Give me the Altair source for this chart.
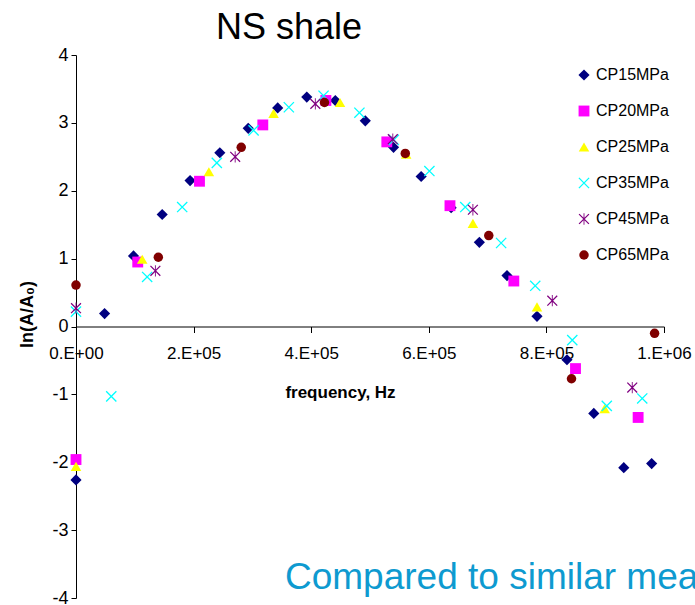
import altair as alt
import pandas as pd

series_names = ["CP15MPa", "CP20MPa", "CP25MPa", "CP35MPa", "CP45MPa", "CP65MPa"]
series_colors = ["#000080", "#FF00FF", "#FFFF00", "#00FFFF", "#800080", "#800000"]

cp15_freq = [0, 48600, 97800, 146600, 194000, 244600, 292900, 343000, 392500, 441000, 492000,
             540000, 587000, 638000, 686000, 733000, 784000, 835000, 880600, 931600, 979000]
cp15_val = [-2.26, 0.19, 1.04, 1.65, 2.15, 2.56, 2.92, 3.22, 3.38, 3.33, 3.03,
            2.64, 2.21, 1.75, 1.24, 0.75, 0.15, -0.49, -1.28, -2.08, -2.02]

cp20_freq = [0, 105000, 210000, 317700, 425000, 528600, 636000, 744600, 849500, 956000]
cp20_val = [-1.96, 0.95, 2.14, 2.97, 3.33, 2.72, 1.78, 0.67, -0.62, -1.34]

cp25_freq = [0, 112600, 226000, 336000, 449000, 561500, 675000, 784000, 899000]
cp25_val = [-2.06, 0.99, 2.28, 3.14, 3.30, 2.54, 1.52, 0.29, -1.21]

cp35_freq = [0, 60000, 121000, 180600, 239500, 302000, 362000, 421000, 482000, 540500,
             601000, 662000, 723000, 781000, 844000, 902700, 963000]
cp35_val = [0.22, -1.03, 0.73, 1.76, 2.41, 2.89, 3.23, 3.40, 3.15, 2.75,
            2.29, 1.76, 1.23, 0.60, -0.20, -1.17, -1.06]

cp45_freq = [0, 135000, 270700, 407000, 538800, 675000, 810000, 946000]
cp45_val = [0.27, 0.82, 2.50, 3.28, 2.76, 1.72, 0.38, -0.90]

cp65_freq = [0, 140000, 281000, 422600, 560000, 702000, 842700, 984000]
cp65_val = [0.61, 1.02, 2.64, 3.30, 2.55, 1.34, -0.77, -0.10]

x_tick_values = [0, 200000, 400000, 600000, 800000, 1000000]
x_tick_labels = ["0.E+00", "2.E+05", "4.E+05", "6.E+05", "8.E+05", "1.E+06"]
y_tick_values = [-4, -3, -2, -1, 0, 1, 2, 3, 4]

title_text = "NS shale"
bottom_text = "Compared to similar mea"

FONT = "Liberation Sans"

# custom filled shapes: X and asterisk
X_PATH = ("M-0.91,-1.09L1.09,0.91L0.91,1.09L-1.09,-0.91Z"
          "M1.09,-0.91L-0.91,1.09L-1.09,0.91L0.91,-1.09Z")
AST_PATH = X_PATH + "M-0.09,-1.15L0.09,-1.15L0.09,1.15L-0.09,1.15Z"
series_shapes = ["diamond", "square", "triangle-up", X_PATH, AST_PATH, "circle"]
series_sizes = [125, 90, 120, 85, 85, 80]

all_freq = [cp15_freq, cp20_freq, cp25_freq, cp35_freq, cp45_freq, cp65_freq]
all_val = [cp15_val, cp20_val, cp25_val, cp35_val, cp45_val, cp65_val]
rows = []
for name, fs, vs in zip(series_names, all_freq, all_val):
    for f, v in zip(fs, vs):
        rows.append({"series": name, "freq": f, "val": v})
df = pd.DataFrame(rows)

label_expr = "''"
for v, lab in reversed(list(zip(x_tick_values, x_tick_labels))):
    label_expr = f"datum.value == {v} ? '{lab}' : ({label_expr})"

W, H = 588, 543

leg = alt.Legend(
    orient="none", legendX=500, legendY=12, padding=0,
    labelFont=FONT, labelFontSize=16, labelColor="black",
    symbolSize=95, rowPadding=20, labelOffset=4, symbolStrokeWidth=0,
)

points = alt.Chart(df).mark_point(filled=True, opacity=1).encode(
    x=alt.X("freq:Q",
            scale=alt.Scale(domain=[0, 1000000], nice=False, zero=False),
            axis=alt.Axis(
                title="frequency, Hz", offset=-H / 2, values=x_tick_values,
                labelExpr=label_expr, labelFlush=False, labelOverlap=False,
                grid=False, tickSize=6, tickColor="black", domainColor="black",
                labelFont=FONT, labelFontSize=17, labelColor="black", labelPadding=13,
                titleFont=FONT, titleFontSize=17, titleFontWeight="bold", titleColor="black",
                titleX=264, titleY=66, titleBaseline="middle", titleAlign="center")),
    y=alt.Y("val:Q",
            scale=alt.Scale(domain=[-4, 4], nice=False, zero=False),
            axis=alt.Axis(
                title="ln(A/A₀)", values=y_tick_values, labelExpr="'' + datum.value",
                grid=False, tickSize=5, tickColor="black", domainColor="black",
                labelFont=FONT, labelFontSize=18, labelColor="black", labelPadding=3,
                titleFont=FONT, titleFontSize=18, titleFontWeight="bold", titleColor="black",
                titleX=-49, titleY=259, titleAngle=270, titleBaseline="middle",
                titleAlign="center")),
    color=alt.Color("series:N", title=None,
                    scale=alt.Scale(domain=series_names, range=series_colors), legend=leg),
    shape=alt.Shape("series:N", title=None,
                    scale=alt.Scale(domain=series_names, range=series_shapes), legend=leg),
    size=alt.Size("series:N",
                  scale=alt.Scale(domain=series_names, range=series_sizes), legend=None),
)

title_mark = alt.Chart(pd.DataFrame({"t": [title_text]})).mark_text(
    font=FONT, fontSize=36, color="black", align="center", baseline="alphabetic"
).encode(x=alt.value(213), y=alt.value(-16), text="t:N")

bottom_mark = alt.Chart(pd.DataFrame({"t": [bottom_text]})).mark_text(
    font=FONT, fontSize=37, color="#0E9AD0", align="left", baseline="alphabetic"
).encode(x=alt.value(209), y=alt.value(534), text="t:N")

chart = alt.layer(points, title_mark, bottom_mark).properties(
    width=W, height=H,
    autosize=alt.AutoSizeParams(type="none"),
    padding={"left": 76, "top": 55, "right": 31, "bottom": 7},
).configure_view(stroke=None)

chart.save("out.html", embed_options={"renderer": "svg", "actions": False})
